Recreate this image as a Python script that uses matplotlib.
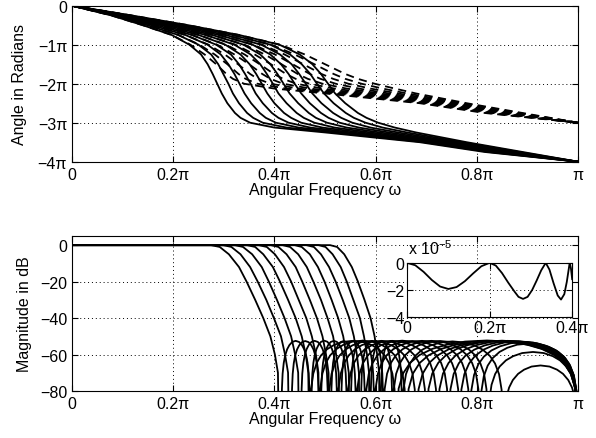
import matplotlib
matplotlib.use("Agg")
import matplotlib.pyplot as plt

plt.rcParams['font.family'] = ['Liberation Sans', 'DejaVu Sans']
plt.rcParams['font.size'] = 11.5
plt.rcParams['mathtext.fontset'] = 'custom'
plt.rcParams['mathtext.rm'] = 'Liberation Sans'

# all frequencies in units of pi, phase in units of pi

# --- phase (top panel): frequency where each curve crosses a phase level
SOLID_LEVELS = [0, -0.25, -0.5, -0.75, -1.0, -1.25, -1.5, -1.75, -2.0, -2.25,
                -2.5, -2.75, -2.875, -3.0, -3.125, -3.25, -3.5, -3.75, -4.0]
SOLID_W = [
    [0, 0.078, 0.140, 0.197, 0.232, 0.255, 0.268, 0.278, 0.287, 0.296, 0.307, 0.322, 0.333, 0.352, 0.400, 0.500, 0.687, 0.815, 1.0],
    [0, 0.082, 0.149, 0.210, 0.250, 0.275, 0.289, 0.299, 0.309, 0.318, 0.330, 0.346, 0.358, 0.377, 0.424, 0.518, 0.696, 0.823, 1.0],
    [0, 0.086, 0.158, 0.224, 0.268, 0.294, 0.309, 0.321, 0.331, 0.341, 0.354, 0.371, 0.383, 0.403, 0.448, 0.536, 0.706, 0.830, 1.0],
    [0, 0.090, 0.167, 0.237, 0.285, 0.314, 0.330, 0.342, 0.353, 0.363, 0.377, 0.395, 0.408, 0.428, 0.471, 0.554, 0.715, 0.838, 1.0],
    [0, 0.094, 0.176, 0.250, 0.303, 0.333, 0.351, 0.364, 0.375, 0.386, 0.400, 0.419, 0.433, 0.453, 0.495, 0.572, 0.724, 0.845, 1.0],
    [0, 0.098, 0.185, 0.264, 0.321, 0.353, 0.372, 0.385, 0.397, 0.408, 0.424, 0.444, 0.458, 0.479, 0.519, 0.590, 0.734, 0.853, 1.0],
    [0, 0.102, 0.194, 0.277, 0.339, 0.372, 0.392, 0.406, 0.418, 0.430, 0.447, 0.468, 0.482, 0.504, 0.543, 0.608, 0.743, 0.860, 1.0],
    [0, 0.106, 0.203, 0.290, 0.357, 0.392, 0.413, 0.428, 0.440, 0.453, 0.470, 0.492, 0.507, 0.529, 0.567, 0.626, 0.752, 0.868, 1.0],
    [0, 0.110, 0.212, 0.303, 0.374, 0.411, 0.434, 0.449, 0.462, 0.475, 0.493, 0.516, 0.532, 0.554, 0.590, 0.644, 0.761, 0.875, 1.0],
    [0, 0.114, 0.221, 0.317, 0.392, 0.431, 0.454, 0.471, 0.484, 0.498, 0.517, 0.541, 0.557, 0.580, 0.614, 0.662, 0.771, 0.883, 1.0],
    [0, 0.118, 0.230, 0.330, 0.410, 0.450, 0.475, 0.492, 0.506, 0.520, 0.540, 0.565, 0.582, 0.605, 0.638, 0.680, 0.780, 0.890, 1.0],
]
DASH_LEVELS = [0, -0.25, -0.5, -0.75, -1.0, -1.25, -1.5, -1.75, -1.875,
               -2.0, -2.125, -2.25, -2.5, -2.75, -3.0]
DASH_W = [
    [0, 0.078, 0.140, 0.197, 0.234, 0.262, 0.285, 0.305, 0.318, 0.340, 0.400, 0.500, 0.687, 0.815, 1.0],
    [0, 0.082, 0.149, 0.210, 0.252, 0.282, 0.307, 0.329, 0.343, 0.366, 0.424, 0.518, 0.696, 0.823, 1.0],
    [0, 0.086, 0.158, 0.224, 0.270, 0.302, 0.328, 0.352, 0.367, 0.392, 0.448, 0.536, 0.706, 0.830, 1.0],
    [0, 0.090, 0.167, 0.237, 0.287, 0.321, 0.350, 0.376, 0.392, 0.417, 0.471, 0.554, 0.715, 0.838, 1.0],
    [0, 0.094, 0.176, 0.250, 0.305, 0.341, 0.371, 0.399, 0.417, 0.443, 0.495, 0.572, 0.724, 0.845, 1.0],
    [0, 0.098, 0.185, 0.264, 0.323, 0.361, 0.393, 0.423, 0.442, 0.469, 0.519, 0.590, 0.734, 0.853, 1.0],
    [0, 0.102, 0.194, 0.277, 0.341, 0.381, 0.414, 0.446, 0.466, 0.495, 0.543, 0.608, 0.743, 0.860, 1.0],
    [0, 0.106, 0.203, 0.290, 0.359, 0.401, 0.436, 0.470, 0.491, 0.521, 0.567, 0.626, 0.752, 0.868, 1.0],
    [0, 0.110, 0.212, 0.303, 0.376, 0.420, 0.457, 0.493, 0.516, 0.546, 0.590, 0.644, 0.761, 0.875, 1.0],
    [0, 0.114, 0.221, 0.317, 0.394, 0.440, 0.479, 0.517, 0.540, 0.572, 0.614, 0.662, 0.771, 0.883, 1.0],
    [0, 0.118, 0.230, 0.330, 0.412, 0.460, 0.500, 0.540, 0.565, 0.598, 0.638, 0.680, 0.780, 0.890, 1.0],
]

# --- magnitude (bottom panel): transition band level crossings
MAG_LEVELS = [0, -1, -5, -12, -20, -30, -40, -50, -60, -70]
MAG_W = [
    [0.275, 0.292, 0.310, 0.330, 0.345, 0.362, 0.378, 0.392, 0.401, 0.407],
    [0.299, 0.315, 0.333, 0.352, 0.367, 0.384, 0.399, 0.413, 0.421, 0.427],
    [0.322, 0.338, 0.356, 0.375, 0.389, 0.405, 0.420, 0.433, 0.441, 0.447],
    [0.346, 0.362, 0.378, 0.397, 0.411, 0.427, 0.442, 0.454, 0.462, 0.467],
    [0.369, 0.385, 0.401, 0.419, 0.433, 0.448, 0.463, 0.474, 0.482, 0.487],
    [0.393, 0.408, 0.424, 0.442, 0.455, 0.470, 0.484, 0.495, 0.502, 0.507],
    [0.416, 0.431, 0.447, 0.464, 0.477, 0.492, 0.505, 0.516, 0.522, 0.527],
    [0.440, 0.454, 0.470, 0.486, 0.499, 0.513, 0.526, 0.536, 0.542, 0.547],
    [0.463, 0.478, 0.492, 0.508, 0.521, 0.535, 0.548, 0.557, 0.563, 0.567],
    [0.487, 0.501, 0.515, 0.531, 0.543, 0.556, 0.569, 0.577, 0.583, 0.587],
    [0.510, 0.524, 0.538, 0.553, 0.565, 0.578, 0.590, 0.598, 0.603, 0.607],
]
# stopband zeros and lobe peaks (dB)
ZERO1 = [0.414, 0.434, 0.453, 0.473, 0.492, 0.512, 0.532, 0.551, 0.571, 0.590, 0.610]
ZERO2 = [0.470, 0.488, 0.506, 0.524, 0.543, 0.561, 0.579, 0.597, 0.615, 0.633, 0.652]
ZERO3 = [0.640, 0.660, 0.680, 0.700, 0.722, 0.744, 0.766, 0.786, 0.806, 0.822, 0.852]
PEAK1 = [-52.5, -52.6, -52.5, -52.4, -52.5, -52.6, -52.5, -52.4, -52.5, -52.6, -52.5]
PEAK2 = [-52.5, -52.4, -52.6, -52.5, -52.5, -52.4, -52.6, -52.5, -52.5, -52.6, -52.8]
PEAK3 = [-52.3, -52.5, -52.6, -52.4, -52.5, -52.7, -52.8, -53.2, -54.0, -58.6, -66.0]
# lobe profile between two zeros (fraction of lobe width, dB below peak)
LOBE_FRAC = [0, 0.015, 0.04, 0.08, 0.13, 0.2, 0.28, 0.38, 0.5,
             0.62, 0.72, 0.8, 0.87, 0.92, 0.96, 0.985, 1]
LOBE_DROP = [-150, -26.5, -18.0, -12.1, -8.0, -4.6, -2.3, -0.6, 0,
             -0.6, -2.3, -4.6, -8.0, -12.1, -18.0, -26.5, -150]

# --- inset: passband ripple (units of 1e-5 dB)
RIPPLE_W = [0, 0.02, 0.04, 0.06, 0.08, 0.10, 0.12, 0.14, 0.16, 0.18, 0.20,
            0.215, 0.23, 0.245, 0.26, 0.27, 0.281, 0.292, 0.303, 0.314, 0.325, 0.336,
            0.345, 0.355, 0.365, 0.373, 0.381, 0.387, 0.391, 0.394, 0.397, 0.400]
RIPPLE_DB = [0, -0.18, -0.66, -1.26, -1.74, -1.92, -1.78, -1.35, -0.78, -0.25, 0,
             -0.2, -0.75, -1.45, -2.1, -2.5, -2.65, -2.5, -2.0, -1.3, -0.55, 0,
             -0.5, -1.5, -2.4, -2.7, -2.3, -1.4, -0.6, 0, -0.4, -1.2]

PI_TICKS = [0, 0.2, 0.4, 0.6, 0.8, 1.0]
PI_LABELS = ['0', '0.2π', '0.4π', '0.6π', '0.8π', 'π']


def lobe(za, zb, peak):
    w = [za + f * (zb - za) for f in LOBE_FRAC]
    d = [peak + x for x in LOBE_DROP]
    return w, d


def style(ax):
    ax.grid(True, color='k', linestyle=(0, (1, 3)), linewidth=0.7)
    ax.tick_params(direction='in', top=True, right=True, length=4, width=0.8)
    for s in ax.spines.values():
        s.set_linewidth(0.8)


fig = plt.figure(figsize=(5.96, 4.39), dpi=100)

# top: phase
ax1 = fig.add_axes([0.1208, 0.6294, 0.849, 0.3553])
for i in range(len(SOLID_W)):
    ax1.plot(SOLID_W[i], SOLID_LEVELS, color='k', lw=1.3)
    ax1.plot(DASH_W[i], DASH_LEVELS, color='k', lw=1.3, linestyle=(0, (4.5, 3)))
ax1.set_xlim(0, 1)
ax1.set_ylim(-4, 0)
ax1.set_xticks(PI_TICKS)
ax1.set_xticklabels(PI_LABELS)
ax1.set_yticks([-4, -3, -2, -1, 0])
ax1.set_yticklabels(['−4π', '−3π', '−2π', '−1π', '0'])
ax1.set_xlabel('Angular Frequency ω', labelpad=0)
ax1.set_ylabel('Angle in Radians', labelpad=8)
style(ax1)

# bottom: magnitude
ax2 = fig.add_axes([0.1208, 0.1071, 0.849, 0.353])
for i in range(len(MAG_W)):
    w = [0.0] + MAG_W[i]
    d = [0.0] + MAG_LEVELS
    for za, zb, pk in [(ZERO1[i], ZERO2[i], PEAK1[i]),
                       (ZERO2[i], ZERO3[i], PEAK2[i]),
                       (ZERO3[i], 1.0, PEAK3[i])]:
        lw_, ld_ = lobe(za, zb, pk)
        if w[-1] == lw_[0]:
            lw_, ld_ = lw_[1:], ld_[1:]
        w += lw_
        d += ld_
    ax2.plot(w, d, color='k', lw=1.3)
ax2.set_xlim(0, 1)
ax2.set_ylim(-80, 5)
ax2.set_xticks(PI_TICKS)
ax2.set_xticklabels(PI_LABELS)
ax2.set_yticks([-80, -60, -40, -20, 0])
ax2.set_yticklabels(['−80', '−60', '−40', '−20', '0'])
ax2.set_xlabel('Angular Frequency ω', labelpad=0)
ax2.set_ylabel('Magnitude in dB', labelpad=6)
style(ax2)

# inset: passband ripple
ax3 = fig.add_axes([0.683, 0.275, 0.277, 0.124])
ax3.plot(RIPPLE_W, RIPPLE_DB, color='k', lw=1.3)
ax3.set_xlim(0, 0.4)
ax3.set_ylim(-4, 0)
ax3.set_xticks([0, 0.2, 0.4])
ax3.set_xticklabels(['0', '0.2π', '0.4π'])
ax3.set_yticks([-4, -2, 0])
ax3.set_yticklabels(['−4', '−2', '0'])
style(ax3)
ax3.tick_params(pad=2)
fig.text(0.685, 0.42, 'x 10$^{-5}$')

fig.savefig('out.png', dpi=100)
